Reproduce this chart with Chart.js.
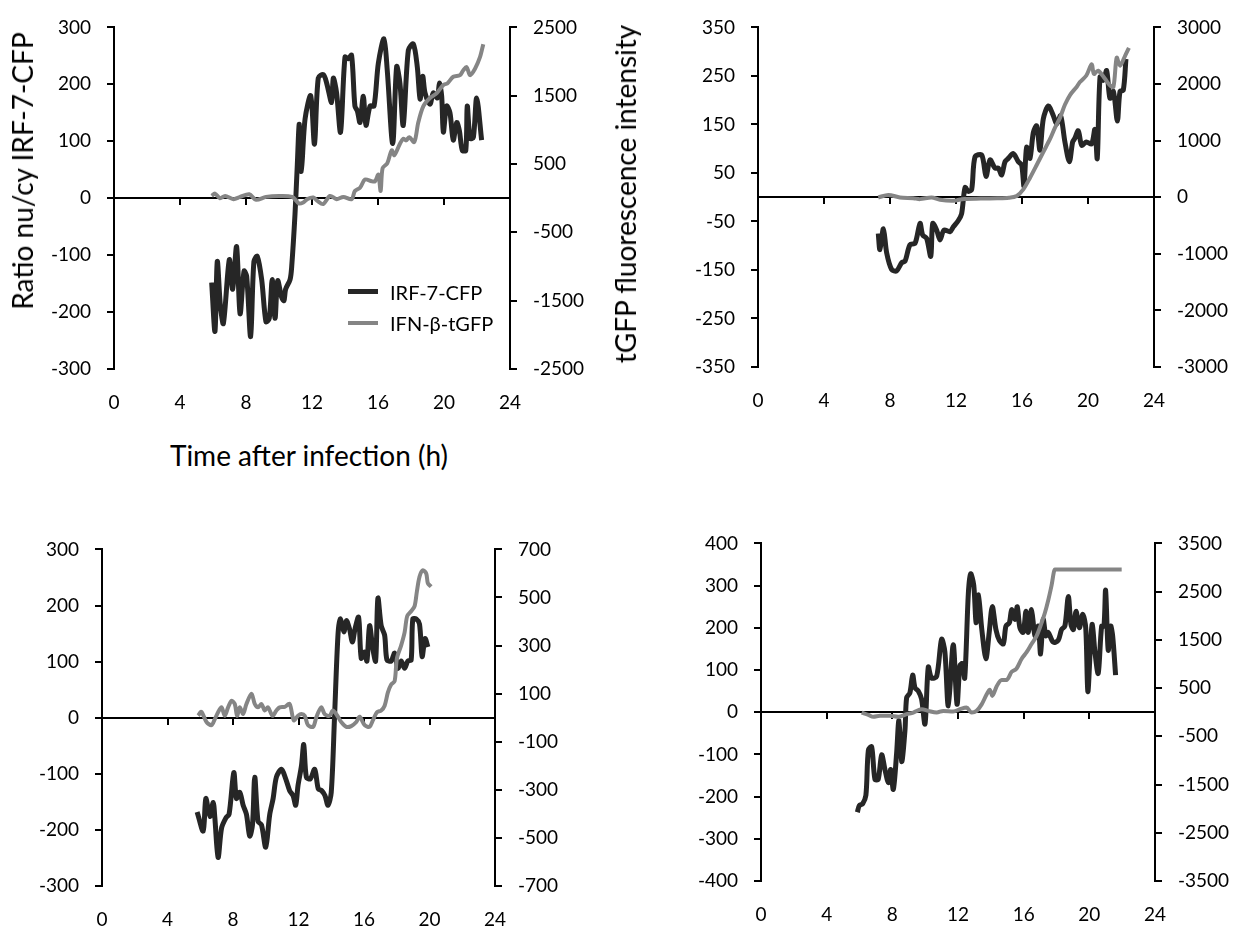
<!DOCTYPE html>
<html>
<head>
<meta charset="utf-8">
<script src="https://cdn.jsdelivr.net/npm/chart.js@4.4.1/dist/chart.umd.min.js"></script>
<style>
  body { margin: 0; background: #fff; width: 1239px; height: 934px; position: relative; overflow: hidden; font-family: Lato, sans-serif; }
  canvas { position: absolute; }
  .title { position: absolute; font-size: 28px; color: #000; white-space: nowrap; transform: translate(-50%, -50%); z-index: 2; }
  .title.rot { transform: translate(-50%, -50%) rotate(-90deg); }
  .legend { position: absolute; left: 348px; top: 276px; font-size: 20px; z-index: 2; }
  .legend div { display: flex; align-items: center; height: 31px; }
  .legend span { display: inline-block; width: 30px; margin-right: 12px; }
</style>
</head>
<body>

<div class="title rot" style="left:22px;top:171px">Ratio nu/cy IRF-7-CFP</div>
<div class="title rot" style="left:625px;top:194px">tGFP fluorescence intensity</div>
<div class="title" style="left:309px;top:455px">Time after infection (h)</div>
<div class="legend">
  <div><span style="height:5px;background:#262626"></span>IRF-7-CFP</div>
  <div><span style="height:4px;background:#858585"></span>IFN-β-tGFP</div>
</div>

<script>
// x axis, hours after infection
const hourTicks = [0, 4, 8, 12, 16, 20, 24];

// top left panel
const p1IrfTime = [5.92,6.12,6.26,6.45,6.63,6.99,7.19,7.43,7.64,7.88,8.04,8.28,8.48,8.68,8.95,9.21,9.41,9.59,9.76,9.92,10.16,10.3,10.4,10.67,10.77,10.97,11.11,11.23,11.35,11.58,11.92,12.15,12.38,12.69,12.89,13.19,13.29,13.49,13.73,14.0,14.2,14.4,14.6,14.75,14.91,15.11,15.27,15.52,15.76,16.02,16.36,16.56,16.89,17.13,17.33,17.53,17.84,18.14,18.38,18.55,18.71,18.85,19.15,19.35,19.6,19.72,19.86,19.96,20.16,20.36,20.56,20.77,20.93,21.11,21.32,21.41,21.58,21.78,21.98,22.28];
const p1Irf = [-148,-234,-111,-190,-220,-108,-160,-85,-203,-128,-137,-243,-111,-102,-143,-217,-211,-143,-211,-145,-174,-180,-160,-143,-120,-28,59,130,47,139,180,95,211,217,202,168,211,185,116,248,245,251,162,153,133,179,128,162,162,237,280,225,96,231,202,128,260,271,231,174,214,185,165,185,176,202,179,116,162,150,102,133,119,84,84,162,105,107,176,102];
const p1GfpTime = [5.92,6.12,6.42,6.73,7.24,7.64,8.2,8.61,9.21,10.0,10.8,11.2,11.47,11.71,12.08,12.32,12.68,13.09,13.49,13.9,14.4,14.6,14.91,15.21,15.62,15.82,16.02,16.16,16.28,16.56,16.83,16.99,17.33,17.53,17.7,17.9,18.2,18.44,18.75,19.15,19.56,19.96,20.2,20.56,20.97,21.17,21.37,21.58,21.88,22.18,22.38];
const p1Gfp = [33,67,0,33,-14,19,57,-24,19,33,19,-76,-62,-14,10,-38,-86,33,-14,19,-14,105,153,272,248,248,344,105,440,511,702,630,798,870,846,893,822,1108,1347,1466,1538,1658,1680,1777,1801,1873,1920,1801,1896,2064,2254];
const p1LeftTicks = [-300,-200,-100,0,100,200,300];
const p1RightTicks = [-2500,-1500,-500,500,1500,2500];

// top right panel
const p2IrfTime = [7.29,7.39,7.6,7.8,8.1,8.4,8.71,8.91,9.21,9.52,9.82,9.98,10.22,10.47,10.59,10.83,11.03,11.27,11.64,11.84,12.14,12.34,12.55,12.75,12.95,13.15,13.56,13.82,14.06,14.36,14.56,14.77,14.97,15.17,15.47,15.78,15.98,16.12,16.28,16.48,16.69,16.89,17.09,17.29,17.6,17.9,18.1,18.34,18.6,18.87,19.07,19.2,19.41,19.62,19.9,20.22,20.42,20.56,20.73,20.93,21.13,21.33,21.54,21.78,21.94,22.14,22.3];
const p2Irf = [-75,-108,-65,-115,-149,-152,-135,-132,-98,-95,-54,-78,-85,-122,-54,-68,-88,-68,-71,-61,-48,-34,20,12,16,83,87,43,77,60,60,46,73,80,90,73,66,23,103,80,134,147,97,161,188,168,151,168,114,73,114,121,137,107,114,110,140,80,248,241,261,204,218,157,218,221,285];
const p2GfpTime = [7.29,7.9,8.6,9.41,9.82,10.52,11.03,11.84,12.5,13.5,14.5,15.2,15.68,16.08,16.48,16.89,17.29,17.7,18.0,18.3,18.6,18.91,19.31,19.51,19.9,20.22,20.36,20.61,21.03,21.33,21.54,21.74,21.94,22.24,22.48];
const p2Gfp = [-5,40,-5,-17,-34,-5,-46,-63,-30,-25,-20,-10,22,138,340,569,798,1029,1229,1402,1633,1805,1948,2034,2150,2350,2178,2236,2091,1977,1948,2465,2322,2494,2638];
const p2LeftTicks = [-350,-250,-150,-50,50,150,250,350];
const p2RightTicks = [-3000,-2000,-1000,0,1000,2000,3000];

// bottom left panel
const p3IrfTime = [5.81,6.18,6.34,6.59,6.79,6.89,7.09,7.3,7.56,7.76,8.05,8.21,8.41,8.62,8.82,9.02,9.19,9.33,9.53,9.74,10.0,10.24,10.45,10.65,10.96,11.22,11.46,11.67,11.83,11.97,12.18,12.32,12.48,12.72,12.99,13.21,13.41,13.62,13.8,14.0,14.2,14.41,14.55,14.77,14.92,15.12,15.29,15.45,15.67,15.83,16.04,16.18,16.34,16.54,16.71,16.85,17.05,17.26,17.4,17.66,17.87,18.07,18.27,18.48,18.68,18.88,18.98,19.19,19.39,19.55,19.73,19.9];
const p3Irf = [-168,-202,-144,-176,-151,-178,-249,-197,-179,-172,-98,-144,-133,-156,-172,-211,-191,-106,-185,-191,-231,-173,-144,-106,-92,-109,-130,-139,-156,-121,-86,-48,-106,-109,-92,-127,-130,-139,-156,-133,1,147,176,153,173,158,135,158,179,106,117,101,164,123,101,213,164,147,103,101,115,88,101,88,101,103,176,176,167,109,141,126];
const p3GfpTime = [5.87,6.07,6.38,6.69,6.89,7.09,7.3,7.5,7.7,7.91,8.11,8.25,8.41,8.62,8.82,9.13,9.33,9.53,9.74,9.94,10.14,10.41,10.65,10.85,11.16,11.46,11.71,11.97,12.18,12.38,12.58,12.89,13.1,13.39,13.6,13.9,14.1,14.41,14.61,14.92,15.22,15.53,15.73,16.04,16.34,16.54,16.79,17.05,17.26,17.46,17.66,17.87,18.01,18.27,18.48,18.64,18.88,19.09,19.23,19.39,19.59,19.8,19.9,20.1];
const p3Gfp = [9,24,-18,-31,-6,23,43,8,43,70,57,8,43,16,57,100,57,43,57,30,43,8,30,43,45,57,-11,8,15,8,-31,-38,4,43,15,8,30,4,-18,-38,-35,-18,4,-31,-38,-11,23,30,50,105,138,152,247,301,355,423,443,464,525,586,613,600,559,545];
const p3LeftTicks = [-300,-200,-100,0,100,200,300];
const p3RightTicks = [-700,-500,-300,-100,100,300,500,700];

// bottom right panel
const p4IrfTime = [5.87,5.99,6.19,6.39,6.54,6.74,6.94,7.14,7.35,7.55,7.76,7.9,8.06,8.26,8.4,8.57,8.77,8.87,9.07,9.24,9.38,9.58,9.78,9.99,10.19,10.39,10.7,11.0,11.2,11.41,11.71,11.94,12.12,12.27,12.41,12.63,12.77,12.96,13.1,13.24,13.45,13.7,13.9,14.09,14.31,14.52,14.76,14.92,15.13,15.27,15.48,15.61,15.77,15.97,16.14,16.28,16.48,16.69,16.89,17.03,17.19,17.35,17.49,17.8,18.1,18.31,18.51,18.72,18.88,19.03,19.19,19.39,19.6,19.78,19.91,20.08,20.18,20.34,20.54,20.75,20.89,20.99,21.15,21.3,21.42,21.6];
const p4Irf = [-237,-221,-217,-197,-90,-82,-159,-159,-101,-136,-167,-136,-183,-98,-20,-117,-43,34,46,88,58,50,31,-28,107,81,85,173,143,15,160,19,111,115,81,281,328,301,212,278,196,127,189,250,196,170,162,204,212,243,220,250,200,189,239,189,243,181,204,138,220,181,189,166,170,196,204,274,208,196,239,200,232,200,49,166,208,143,92,204,204,289,147,204,181,88];
const p4GfpTime = [6.13,6.54,6.84,7.25,7.86,8.36,8.87,9.28,9.79,10.19,10.7,11.1,11.71,12.12,12.52,12.83,13.13,13.44,13.74,13.94,14.09,14.35,14.66,14.96,15.27,15.57,15.88,16.18,16.48,16.79,17.09,17.29,17.5,17.7,17.9,18.5,19.5,20.5,21.5,21.97];
const p4Gfp = [-7,-54,-95,-74,-74,-95,-41,-7,61,27,-7,27,14,61,95,-7,27,162,365,467,338,534,670,670,838,906,1109,1244,1414,1583,1853,2056,2327,2631,2960,2960,2960,2960,2960,2960];
const p4LeftTicks = [-400,-300,-200,-100,0,100,200,300,400];
const p4RightTicks = [-3500,-2500,-1500,-500,500,1500,2500,3500];

const SIDE = 100, PAD_TOP = 20, PAD_BOTTOM = 45;
const tickFont = { family: 'Lato', size: 19 };

function pts(xs, ys) {
  return xs.map((x, i) => ({ x, y: ys[i] }));
}

// x axis sits on the zero line, labels stay at the bottom
const zeroAxis = {
  id: 'zeroAxis',
  beforeDatasetsDraw(chart) {
    const { ctx, chartArea, scales } = chart;
    const y0 = Math.round(scales.y.getPixelForValue(0));
    ctx.save();
    ctx.strokeStyle = '#000';
    ctx.lineWidth = 2;
    ctx.beginPath();
    ctx.moveTo(chartArea.left, y0);
    ctx.lineTo(chartArea.right, y0);
    hourTicks.slice(1, -1).forEach(h => {
      const x = Math.round(scales.x.getPixelForValue(h));
      ctx.moveTo(x, y0);
      ctx.lineTo(x, y0 + 7);
    });
    ctx.stroke();
    ctx.restore();
  }
};

function yAxis(position, ticks) {
  return {
    position,
    min: ticks[0],
    max: ticks[ticks.length - 1],
    afterBuildTicks: s => { s.ticks = ticks.map(v => ({ value: v })); },
    afterFit: s => { s.width = SIDE; },
    grid: { drawOnChartArea: false, color: '#000', lineWidth: 2, tickLength: 7 },
    border: { color: '#000', width: 2 },
    ticks: { color: '#000', font: tickFont, padding: 16, callback: v => String(v) },
  };
}

function makePanel(area, irfTime, irf, gfpTime, gfp, leftTicks, rightTicks, gfpMode) {
  const canvas = document.createElement('canvas');
  canvas.width = area.right - area.left + SIDE * 2;
  canvas.height = area.bottom - area.top + PAD_TOP + PAD_BOTTOM;
  canvas.style.left = (area.left - SIDE) + 'px';
  canvas.style.top = (area.top - PAD_TOP) + 'px';
  document.body.appendChild(canvas);

  new Chart(canvas, {
    type: 'line',
    data: {
      datasets: [
        {
          label: 'IRF-7-CFP',
          data: pts(irfTime, irf),
          yAxisID: 'y',
          borderColor: '#262626',
          borderWidth: 5,
          pointRadius: 0,
          tension: 0.3,
          order: 2,
        },
        {
          label: 'IFN-β-tGFP',
          data: pts(gfpTime, gfp),
          yAxisID: 'y1',
          borderColor: '#858585',
          borderWidth: 4,
          pointRadius: 0,
          tension: 0.3,
          cubicInterpolationMode: gfpMode || 'default',
          order: 1,
        },
      ],
    },
    options: {
      responsive: false,
      animation: false,
      events: [],
      layout: { padding: { top: PAD_TOP } },
      plugins: { legend: { display: false }, tooltip: { enabled: false } },
      scales: {
        x: {
          type: 'linear',
          min: 0,
          max: 24,
          afterBuildTicks: s => { s.ticks = hourTicks.map(v => ({ value: v })); },
          afterFit: s => { s.height = PAD_BOTTOM; },
          grid: { display: false, drawTicks: false },
          border: { display: false },
          ticks: { color: '#000', font: tickFont, padding: 22, maxRotation: 0 },
        },
        y: yAxis('left', leftTicks),
        y1: yAxis('right', rightTicks),
      },
    },
    plugins: [zeroAxis],
  });
}

makePanel({ left: 114, right: 510, top: 20, bottom: 369 }, p1IrfTime, p1Irf, p1GfpTime, p1Gfp, p1LeftTicks, p1RightTicks);
makePanel({ left: 758, right: 1154, top: 20, bottom: 367 }, p2IrfTime, p2Irf, p2GfpTime, p2Gfp, p2LeftTicks, p2RightTicks);
makePanel({ left: 102, right: 495, top: 542, bottom: 886 }, p3IrfTime, p3Irf, p3GfpTime, p3Gfp, p3LeftTicks, p3RightTicks);
makePanel({ left: 761, right: 1155, top: 536, bottom: 881 }, p4IrfTime, p4Irf, p4GfpTime, p4Gfp, p4LeftTicks, p4RightTicks, 'monotone');
</script>
</body>
</html>
